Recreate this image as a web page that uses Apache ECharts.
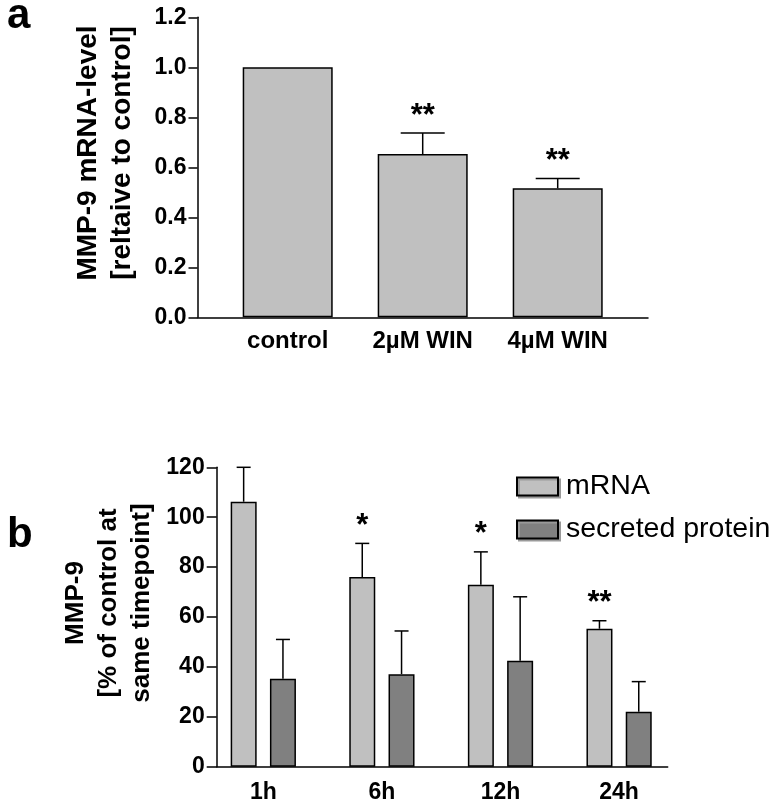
<!DOCTYPE html>
<html>
<head>
<meta charset="utf-8">
<script src="https://cdn.jsdelivr.net/npm/echarts@6/dist/echarts.min.js"></script>
<style>
  html, body { margin: 0; padding: 0; background: #fff; }
  #chart { width: 778px; height: 807px; }
</style>
</head>
<body>
<div id="chart"></div>
<script>
// panel a: MMP-9 mRNA relative to control
const treatments = ['control', '2µM WIN', '4µM WIN']
const mrnaLevel = [1.0, 0.653, 0.516]
const mrnaLevelErr = [0, 0.084, 0.039]
const treatmentStars = ['', '**', '**']

// panel b: % of control at same timepoint
const timepoints = ['1h', '6h', '12h', '24h']
const mrnaPct = [106.2, 76.0, 72.9, 55.3]
const mrnaPctErr = [13.8, 13.5, 13.2, 3.2]
const mrnaStars = ['', '*', '*', '**']
const proteinPct = [35.3, 37.1, 42.5, 22.0]
const proteinPctErr = [15.7, 17.3, 25.6, 12.1]
const proteinStars = ['', '', '', '']

const FONT = '"Liberation Sans", Arial, sans-serif'
const LIGHT = '#c0c0c0'
const DARK = '#808080'

const BAR_W_B = 26
const GAP_B = 13.3

function errorBars(xAxisIndex, yAxisIndex, means, errs, stars, offset, capW) {
  return {
    type: 'custom',
    xAxisIndex, yAxisIndex,
    silent: true,
    z: 5,
    data: means.map((m, i) => [i, m, errs[i]]),
    renderItem(params, api) {
      const i = api.value(0)
      const m = api.value(1)
      const e = api.value(2)
      const p0 = api.coord([i, m])
      const p1 = api.coord([i, m + e])
      const cx = p0[0] + offset
      const line = { stroke: '#000', lineWidth: 1.5 }
      const kids = []
      if (e > 0) {
        kids.push({ type: 'line', shape: { x1: cx, y1: p0[1], x2: cx, y2: p1[1] }, style: line })
        kids.push({ type: 'line', shape: { x1: cx - capW / 2, y1: p1[1], x2: cx + capW / 2, y2: p1[1] }, style: line })
      }
      const s = stars[params.dataIndex]
      if (s) {
        kids.push({
          type: 'text', x: cx, y: p1[1] - 17,
          style: { text: s, fontFamily: FONT, fontSize: 31, fontWeight: 'bold', fill: '#000', align: 'center', verticalAlign: 'middle' }
        })
      }
      return { type: 'group', children: kids }
    }
  }
}

const axisLine = { show: true, lineStyle: { color: '#000', width: 1.5 } }
const tickLabel = { color: '#000', fontFamily: FONT, fontWeight: 'bold' }

const option = {
  animation: false,
  backgroundColor: '#fff',
  textStyle: { fontFamily: FONT },
  grid: [
    { left: 197.5, top: 17.3, width: 450.5, height: 300 },
    { left: 220.2, top: 17.3, width: 405, height: 300 },
    { left: 216.7, top: 467.3, width: 451, height: 299.4 },
    { left: 204, top: 467.3, width: 474.4, height: 299.4 }
  ],
  xAxis: [
    { gridIndex: 0, type: 'value', min: 0, max: 1, axisLine, axisTick: { show: false }, axisLabel: { show: false }, splitLine: { show: false } },
    { gridIndex: 1, type: 'category', data: treatments, axisLine: { show: false }, axisTick: { show: false },
      axisLabel: { ...tickLabel, fontSize: 24, margin: 12 } },
    { gridIndex: 2, type: 'value', min: 0, max: 1, axisLine, axisTick: { show: false }, axisLabel: { show: false }, splitLine: { show: false } },
    { gridIndex: 3, type: 'category', data: timepoints, axisLine: { show: false }, axisTick: { show: false },
      axisLabel: { ...tickLabel, fontSize: 23, margin: 14 } }
  ],
  yAxis: [
    { gridIndex: 0, type: 'value', min: 0, max: 1.2, interval: 0.2, axisLine,
      axisTick: { show: true, length: 9, lineStyle: { color: '#000', width: 1.5 } },
      axisLabel: { ...tickLabel, fontSize: 23, margin: 11, formatter: v => v.toFixed(1) },
      splitLine: { show: false } },
    { gridIndex: 1, type: 'value', min: 0, max: 1.2, show: false },
    { gridIndex: 2, type: 'value', min: 0, max: 120, interval: 20, axisLine,
      axisTick: { show: true, length: 10, lineStyle: { color: '#000', width: 1.5 } },
      axisLabel: { ...tickLabel, fontSize: 23, margin: 12 },
      splitLine: { show: false } },
    { gridIndex: 3, type: 'value', min: 0, max: 120, show: false }
  ],
  legend: {
    data: ['mRNA', 'secreted protein'],
    orient: 'vertical',
    left: 516, top: 472,
    padding: 0,
    icon: 'rect',
    itemWidth: 41, itemHeight: 18, itemGap: 14,
    itemStyle: { shadowColor: '#9a9a9a', shadowOffsetX: 2, shadowOffsetY: 2, shadowBlur: 0 },
    textStyle: { color: '#000', fontFamily: FONT, fontSize: 28.5, lineHeight: 20, padding: [0, 0, 0, 3] },
    selectedMode: false
  },
  graphic: [
    { type: 'text', x: 7, y: 16, style: { text: 'a', fontFamily: FONT, fontSize: 42, fontWeight: 'bold', fill: '#000', verticalAlign: 'middle' } },
    { type: 'text', x: 7, y: 535, style: { text: 'b', fontFamily: FONT, fontSize: 42, fontWeight: 'bold', fill: '#000', verticalAlign: 'middle' } },
    { type: 'text', x: 105, y: 153, rotation: Math.PI / 2,
      style: { text: 'MMP-9 mRNA-level\n[reltaive to control]', fontFamily: FONT, fontSize: 28, fontWeight: 'bold', lineHeight: 34, fill: '#000', align: 'center', verticalAlign: 'middle' } },
    { type: 'text', x: 109, y: 603, rotation: Math.PI / 2,
      style: { text: 'MMP-9\n[% of control at\nsame timepoint]', fontFamily: FONT, fontSize: 26, fontWeight: 'bold', lineHeight: 33, fill: '#000', align: 'center', verticalAlign: 'middle' } }
  ],
  series: [
    { name: 'relative', type: 'bar', xAxisIndex: 1, yAxisIndex: 1, data: mrnaLevel, barWidth: 90,
      itemStyle: { color: LIGHT, borderColor: '#000', borderWidth: 1.5 } },
    errorBars(1, 1, mrnaLevel, mrnaLevelErr, treatmentStars, 0, 44),
    { name: 'mRNA', type: 'bar', xAxisIndex: 3, yAxisIndex: 3, data: mrnaPct, barWidth: BAR_W_B,
      barGap: (GAP_B / BAR_W_B * 100).toFixed(0) + '%',
      itemStyle: { color: LIGHT, borderColor: '#000', borderWidth: 1.5 } },
    { name: 'secreted protein', type: 'bar', xAxisIndex: 3, yAxisIndex: 3, data: proteinPct, barWidth: BAR_W_B,
      barGap: (GAP_B / BAR_W_B * 100).toFixed(0) + '%',
      itemStyle: { color: DARK, borderColor: '#000', borderWidth: 1.5 } },
    errorBars(3, 3, mrnaPct, mrnaPctErr, mrnaStars, -(BAR_W_B + GAP_B) / 2, 14),
    errorBars(3, 3, proteinPct, proteinPctErr, proteinStars, (BAR_W_B + GAP_B) / 2, 14)
  ]
}

const chart = echarts.init(document.getElementById('chart'), null, { renderer: 'canvas' })
chart.setOption(option)
</script>
</body>
</html>
